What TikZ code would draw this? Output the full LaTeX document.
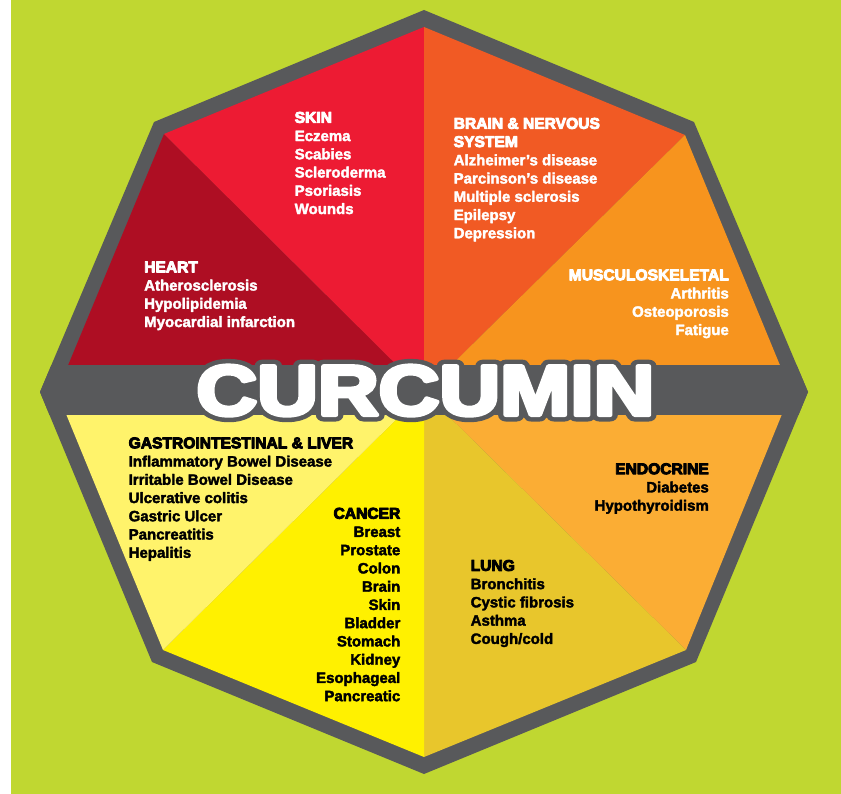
\documentclass[tikz,border=0pt]{standalone}
\usepackage{fontspec}
\setmainfont{Liberation Sans}
\usetikzlibrary{calc}
\definecolor{bggreen}{HTML}{C0D731}
\definecolor{bordergray}{HTML}{58595B}
\definecolor{cheart}{HTML}{AE0E23}
\definecolor{cskin}{HTML}{ED1B33}
\definecolor{cbrain}{HTML}{F15A24}
\definecolor{cmusc}{HTML}{F7941E}
\definecolor{cendo}{HTML}{FBAD34}
\definecolor{clung}{HTML}{E8C62C}
\definecolor{ccancer}{HTML}{FFF100}
\definecolor{cgi}{HTML}{FFF36B}
% stroked text (fill + stroke in the current colour, round joins)
\newcommand\strk[2]{\special{pdf:literal direct 2 Tr #1 w 1 j 1 J}#2\special{pdf:literal direct 0 Tr 1 w 0 j 0 J}}
\newcommand\hd[1]{{\fontsize{15.6}{18.25}\selectfont\strk{0.9}{#1}}}
\newcommand\bd[1]{\strk{0.35}{#1}}
\tikzset{
  lbl/.style={inner sep=0pt, font=\bfseries\fontsize{15}{18.25}\selectfont},
  wlbl/.style={lbl, text=white},
  blbl/.style={lbl, text=black},
  titletext/.style={inner sep=0pt, anchor=base, font=\bfseries\fontsize{71}{80}\selectfont},
}
\newcommand\titleword{\scalebox{1.185}[1]{CURCUMIN}}
\begin{document}
\begin{tikzpicture}[x=1pt,y=-1pt]
\useasboundingbox (0,0) rectangle (841,794);
\fill[white] (0,0) rectangle (841,794);
\fill[bggreen] (11,0) rectangle (841,794);
% centre and octagon corners
\coordinate (O) at (424,392);
\coordinate (oT) at (424,10);
\coordinate (oTR) at (694,122);
\coordinate (oR) at (808,392);
\coordinate (oBR) at (696,662);
\coordinate (oB) at (424,774);
\coordinate (oBL) at (152,662);
\coordinate (oL) at (40,392);
\coordinate (oTL) at (154,122);
\coordinate (iT) at (424,27);
\coordinate (iTR) at (685,135);
\coordinate (iR) at (791,392);
\coordinate (iBR) at (686,650);
\coordinate (iB) at (424,757);
\coordinate (iBL) at (163,650);
\coordinate (iL) at (57,392);
\coordinate (iTL) at (164,134);
% outer frame
\fill[bordergray] (oT) -- (oTR) -- (oR) -- (oBR) -- (oB) -- (oBL) -- (oL) -- (oTL) -- cycle;
% sectors
\fill[cheart] (O) -- (iL) -- (iTL) -- cycle;
\fill[cskin] (O) -- (iTL) -- (iT) -- cycle;
\fill[cbrain] (O) -- (iT) -- (iTR) -- cycle;
\fill[cmusc] (O) -- (iTR) -- (iR) -- cycle;
\fill[cendo] (O) -- (iR) -- (iBR) -- cycle;
\fill[clung] (O) -- (iBR) -- (iB) -- cycle;
\fill[ccancer] (O) -- (iB) -- (iBL) -- cycle;
\fill[cgi] (O) -- (iBL) -- (iL) -- cycle;
% band
\begin{scope}
  \clip (oT) -- (oTR) -- (oR) -- (oBR) -- (oB) -- (oBL) -- (oL) -- (oTL) -- cycle;
  \fill[bordergray] (0,365) rectangle (841,415);
\end{scope}
% title: grey outline under heavy white letters
\coordinate (tpos) at (425.5,415);
\node[titletext, text=bordergray] (tring) at (tpos) {\strk{13}{\titleword}};
\node[titletext, text=white] (title) at (tpos) {\strk{4}{\titleword}};
% labels
\node[wlbl, anchor=base west] (heart) at (144,272.3) {\begin{tabular}[t]{@{}l@{}}\hd{HEART}\\\bd{Atherosclerosis}\\\bd{Hypolipidemia}\\\bd{Myocardial infarction}\end{tabular}};
\node[wlbl, anchor=base west] (skin) at (294.5,122.8) {\begin{tabular}[t]{@{}l@{}}\hd{SKIN}\\\bd{Eczema}\\\bd{Scabies}\\\bd{Scleroderma}\\\bd{Psoriasis}\\\bd{Wounds}\end{tabular}};
\node[wlbl, anchor=base west] (brain) at (453.5,128.8) {\begin{tabular}[t]{@{}l@{}}\hd{BRAIN \& NERVOUS}\\\hd{SYSTEM}\\\bd{Alzheimer’s disease}\\\bd{Parcinson’s disease}\\\bd{Multiple sclerosis}\\\bd{Epilepsy}\\\bd{Depression}\end{tabular}};
\node[wlbl, anchor=base east] (musc) at (729,280.3) {\begin{tabular}[t]{@{}r@{}}\hd{MUSCULOSKELETAL}\\\bd{Arthritis}\\\bd{Osteoporosis}\\\bd{Fatigue}\end{tabular}};
\node[blbl, anchor=base east] (endo) at (709,474.2) {\begin{tabular}[t]{@{}r@{}}\hd{ENDOCRINE}\\\bd{Diabetes}\\\bd{Hypothyroidism}\end{tabular}};
\node[blbl, anchor=base west] (lung) at (470.5,570.9) {\begin{tabular}[t]{@{}l@{}}\hd{LUNG}\\\bd{Bronchitis}\\\bd{Cystic fibrosis}\\\bd{Asthma}\\\bd{Cough/cold}\end{tabular}};
\node[blbl, anchor=base east] (cancer) at (400.5,518.7) {\begin{tabular}[t]{@{}r@{}}\hd{CANCER}\\\bd{Breast}\\\bd{Prostate}\\\bd{Colon}\\\bd{Brain}\\\bd{Skin}\\\bd{Bladder}\\\bd{Stomach}\\\bd{Kidney}\\\bd{Esophageal}\\\bd{Pancreatic}\end{tabular}};
\node[blbl, anchor=base west] (gi) at (128.5,448.3) {\begin{tabular}[t]{@{}l@{}}\hd{GASTROINTESTINAL \& LIVER}\\\bd{Inflammatory Bowel Disease}\\\bd{Irritable Bowel Disease}\\\bd{Ulcerative colitis}\\\bd{Gastric Ulcer}\\\bd{Pancreatitis}\\\bd{Hepalitis}\end{tabular}};
\end{tikzpicture}
\end{document}
